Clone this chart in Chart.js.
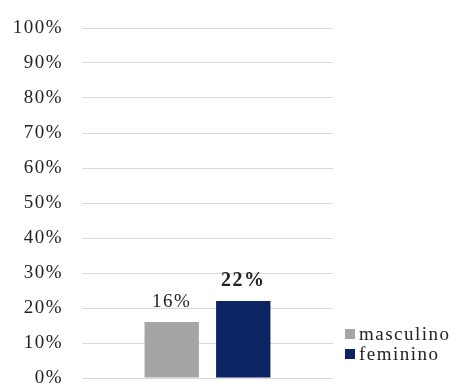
<!DOCTYPE html>
<html>
<head>
<meta charset="utf-8">
<script src="https://cdn.jsdelivr.net/npm/chart.js@4/dist/chart.umd.min.js"></script>
<style>
  html, body { margin: 0; padding: 0; background: #fff; overflow: hidden; }
  #wrap { width: 456px; height: 400px; }
</style>
</head>
<body>
<div id="wrap"><canvas id="grafico" width="456" height="400"></canvas></div>
<script>
// dados
const categorias = [''];
const series = ['masculino', 'feminino'];
const valores = [[16], [22]];
const cores = ['#a5a5a5', '#0c2461'];
const yTicks = [0, 10, 20, 30, 40, 50, 60, 70, 80, 90, 100];

const fonte = "'Liberation Serif', 'Times New Roman', serif";

// rótulos em cima das barras
const rotulos = {
  id: 'rotulos',
  afterDatasetsDraw(chart) {
    const ctx = chart.ctx;
    ctx.save();
    ctx.letterSpacing = '1.5px';
    ctx.fillStyle = '#222';
    ctx.textAlign = 'center';
    ctx.textBaseline = 'alphabetic';
    chart.data.datasets.forEach((ds, i) => {
      const meta = chart.getDatasetMeta(i);
      meta.data.forEach((bar, j) => {
        ctx.font = (ds.rotuloNegrito ? 'bold 20px ' : '19px ') + fonte;
        ctx.fillText(ds.data[j] + '%', bar.x, bar.y - 15);
      });
    });
    ctx.restore();
  }
};

// legenda à direita, junto ao fundo
const legenda = {
  id: 'legenda',
  afterDraw(chart) {
    const ctx = chart.ctx;
    const area = chart.chartArea;
    ctx.save();
    ctx.letterSpacing = '1.5px';
    ctx.font = '19px ' + fonte;
    ctx.textBaseline = 'alphabetic';
    ctx.textAlign = 'left';
    const n = chart.data.datasets.length;
    chart.data.datasets.forEach((ds, i) => {
      const base = area.bottom - 18 - (n - 1 - i) * 20;
      ctx.fillStyle = ds.backgroundColor;
      ctx.fillRect(area.right + 12, base - 11, 10, 10);
      ctx.fillStyle = '#222';
      ctx.fillText(ds.label, area.right + 26, base);
    });
    ctx.restore();
  }
};

const espacamento = {
  id: 'espacamento',
  beforeInit(chart) { chart.ctx.letterSpacing = '1.5px'; },
  beforeDraw(chart) { chart.ctx.letterSpacing = '1.5px'; }
};

new Chart(document.getElementById('grafico'), {
  type: 'bar',
  data: {
    labels: categorias,
    datasets: series.map((nome, i) => ({
      label: nome,
      data: valores[i],
      backgroundColor: cores[i],
      rotuloNegrito: i === 1,
      categoryPercentage: 0.57,
      barPercentage: 0.76
    }))
  },
  options: {
    responsive: false,
    animation: false,
    layout: { padding: { left: 0, right: 123, top: 28, bottom: 22 } },
    plugins: {
      legend: { display: false },
      tooltip: { enabled: false }
    },
    scales: {
      x: {
        display: false,
        grid: { display: false }
      },
      y: {
        min: 0,
        max: 100,
        afterFit: scale => {
          scale.width = 82;
          scale.paddingTop = 0;
          scale.paddingBottom = 0;
        },
        afterBuildTicks: scale => { scale.ticks = yTicks.map(v => ({ value: v })); },
        border: { display: false },
        grid: { color: '#d9d9d9', lineWidth: 1, drawTicks: false },
        ticks: {
          padding: 19,
          color: '#222',
          font: { family: fonte, size: 19 },
          callback: v => v + '%'
        }
      }
    }
  },
  plugins: [espacamento, rotulos, legenda]
});
</script>
</body>
</html>
